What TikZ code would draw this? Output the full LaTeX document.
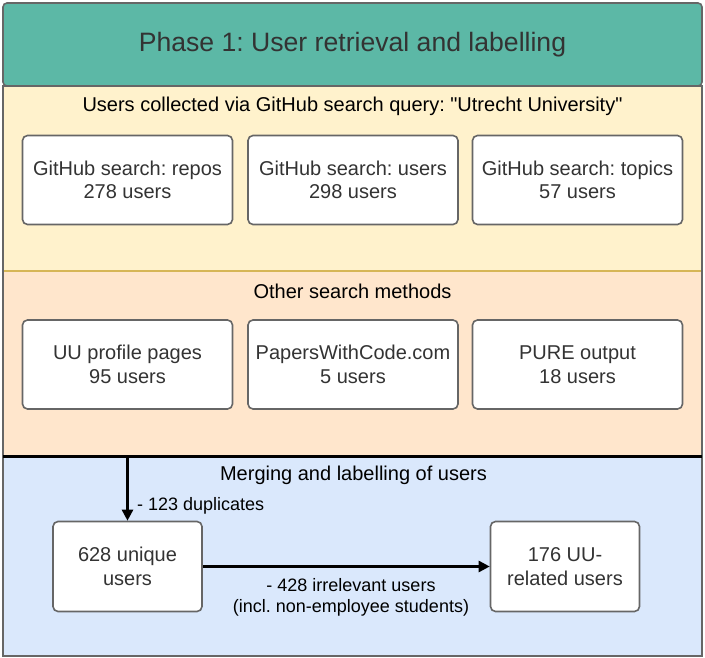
\documentclass[tikz,border=0pt]{standalone}
\usepackage{fontspec}
\setmainfont{Liberation Sans}
\frenchspacing
\usetikzlibrary{arrows.meta}
\definecolor{teal1}{HTML}{5CB8A6}
\definecolor{yel}{HTML}{FFF2CC}
\definecolor{ora}{HTML}{FFE6CC}
\definecolor{blu}{HTML}{DAE8FC}
\definecolor{bord}{HTML}{666666}
\definecolor{sepy}{HTML}{D6B656}
\definecolor{txt}{HTML}{333333}
\begin{document}
\begin{tikzpicture}[x=1pt,y=-1pt,
  boxa/.style={draw=bord,line width=1.6pt,fill=white,rounded corners=5pt,
    minimum width=210pt,minimum height=89pt,align=center,inner sep=0pt,
    text=txt,font=\fontsize{20}{23.5}\selectfont},
  boxb/.style={boxa,minimum width=149pt,minimum height=90pt},
  paneltitle/.style={text=black,font=\fontsize{20}{24}\selectfont,inner sep=0pt},
  lbl/.style={text=black,font=\fontsize{18}{21}\selectfont,inner sep=0pt,align=center},
  arr/.style={line width=2.6pt,-{Triangle[length=11pt,width=11pt]}}]
\useasboundingbox (0,0) rectangle (705,658);
% panels
\path[fill=yel] (3,86) rectangle (702,271);
\path[fill=ora] (3,271) rectangle (702,456);
\path[fill=blu] (3,456) rectangle (702,656);
\draw[sepy,line width=1.2pt] (4,271) -- (701,271);
\draw[bord,line width=2pt] (3,86) rectangle (702,656);
\coordinate (la) at (3,456);
\coordinate (lb) at (702,456);
\draw[black,line width=3pt] (la) -- (lb);
% header
\node[draw=bord,line width=1.6pt,fill=teal1,rounded corners=4pt,minimum width=699pt,
  minimum height=83pt,inner sep=0pt,text=txt,font=\fontsize{26.6}{30}\selectfont]
  (head) at (352.5,44.5) {Phase 1: User retrieval and labelling};
% titles
\node[paneltitle] (t1) at (352.5,106) {Users collected via GitHub search query: \textquotedbl Utrecht University\textquotedbl};
\node[paneltitle] (t2) at (352.5,291) {Other search methods};
\node[paneltitle] (t3) at (353.5,475) {Merging and labelling of users};
% boxes row 1
\node[boxa] (g1) at (127.5,180) {GitHub search: repos\\278 users};
\node[boxa] (g2) at (353,180) {GitHub search: users\\298 users};
\node[boxa] (g3) at (577.5,180) {GitHub search: topics\\57 users};
% boxes row 2
\node[boxa] (o1) at (127.5,364.5) {UU profile pages\\95 users};
\node[boxa] (o2) at (353,364.5) {PapersWithCode.com\\5 users};
\node[boxa] (o3) at (577.5,364.5) {PURE output\\18 users};
% merging
\node[boxb] (u) at (127.5,566.5) {628 unique\\users};
\node[boxb] (r) at (565,566.5) {176 UU-\\related users};
\coordinate (src) at (127.5,456);
\draw[arr] (src) -- (u.north);
\draw[arr] (u.east) -- (r.west);
\node[lbl,anchor=west] (l1) at (137,506) {- 123 duplicates};
\node[lbl] (l2) at (351,597) {- 428 irrelevant users\\(incl. non-employee students)};
\end{tikzpicture}
\end{document}
